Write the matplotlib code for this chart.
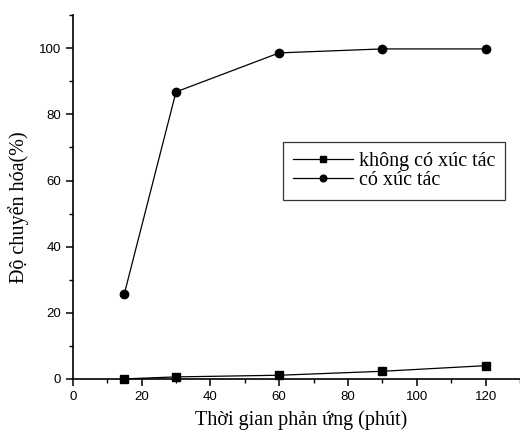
import matplotlib
matplotlib.use("Agg")
import matplotlib.pyplot as plt
from matplotlib.ticker import MultipleLocator

time_min = [15, 30, 60, 90, 120]
no_catalyst = [0.0, 0.6, 1.1, 2.3, 4.0]
with_catalyst = [25.8, 86.8, 98.6, 99.8, 99.8]
label_no = "không có xúc tác"
label_yes = "có xúc tác"
xlabel = "Thời gian phản ứng (phút)"
ylabel = "Độ chuyển hóa(%)"

fig = plt.figure(figsize=(5.2, 4.34), dpi=100)
ax = fig.add_axes([0.140, 0.127, 0.860, 0.838])

ax.plot(time_min, no_catalyst, color="black", lw=0.9, marker="s", markersize=5.2,
        label=label_no, clip_on=False, zorder=3)
ax.plot(time_min, with_catalyst, color="black", lw=0.9, marker="o", markersize=6,
        label=label_yes, clip_on=False, zorder=3)

ax.set_xlim(0, 130)
ax.set_ylim(0, 110)
ax.xaxis.set_major_locator(MultipleLocator(20))
ax.xaxis.set_minor_locator(MultipleLocator(10))
ax.yaxis.set_major_locator(MultipleLocator(20))
ax.yaxis.set_minor_locator(MultipleLocator(10))
ax.spines["top"].set_visible(False)
ax.spines["right"].set_visible(False)
for s in ("left", "bottom"):
    ax.spines[s].set_linewidth(1.2)
ax.tick_params(which="major", direction="out", length=5, width=1.1,
               labelsize=9.5, labelfontfamily="Liberation Sans")
ax.tick_params(which="minor", direction="out", length=3, width=1.0)

ax.set_xlabel(xlabel, family="Liberation Serif", fontsize=14.5)
ax.set_ylabel(ylabel, family="Liberation Serif", fontsize=14.5)
ax.xaxis.set_label_coords(0.511, -0.085)
ax.yaxis.set_label_coords(-0.098, 0.4725)

leg = ax.legend(loc="upper left", bbox_to_anchor=(0.47, 0.651), frameon=True,
                fancybox=False, edgecolor="black",
                prop={"family": "Liberation Serif", "size": 14.5},
                handlelength=3.0, handletextpad=0.25, borderpad=0.5,
                labelspacing=0.0, borderaxespad=0, markerscale=0.8)
leg.get_frame().set_linewidth(0.9)

fig.savefig("out.png", dpi=100)
